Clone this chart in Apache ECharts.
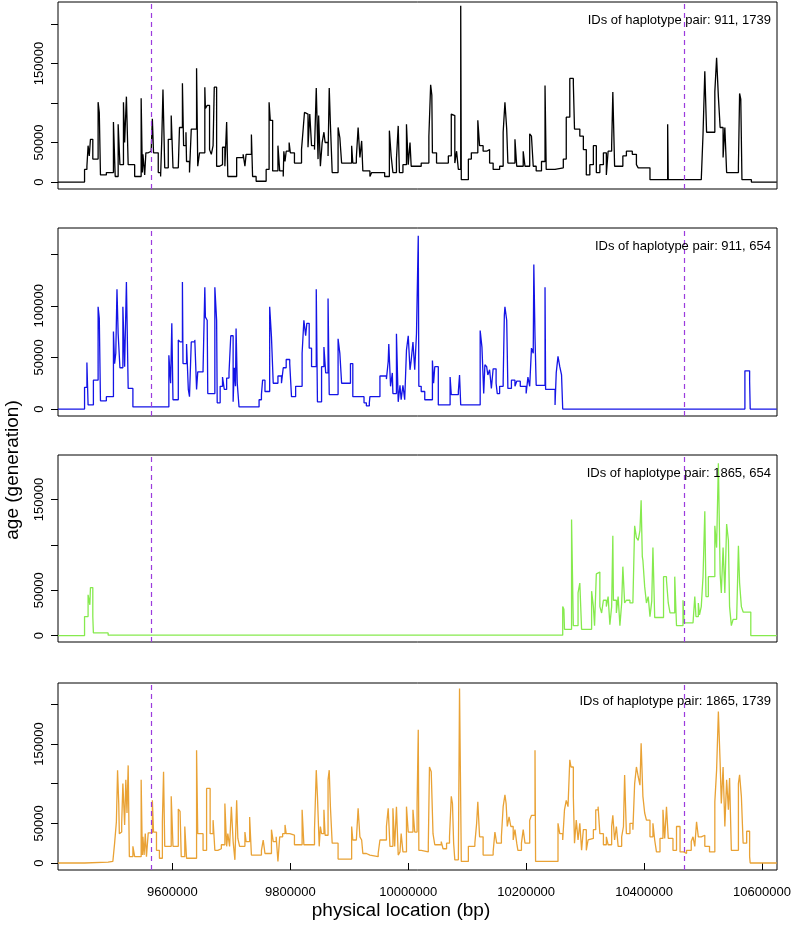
<!DOCTYPE html>
<html><head><meta charset="utf-8">
<script src="https://cdn.jsdelivr.net/npm/echarts@6/dist/echarts.min.js"></script>
<style>html,body{margin:0;padding:0;background:#fff}#c{width:792px;height:926px}</style>
</head><body><div id="c"></div>
<script>
// physical positions (bp) and ages (generation) for each haplotype pair
const pos1 = [9406000,9451000,9455000,9457000,9459000,9461000,9465000,9474000,9476000,9478000,9488000,9500000,9503000,9508000,9511000,9517000,9519000,9522000,9525000,9536000,9547000,9549000,9550000,9553000,9555000,9559000,9564000,9566000,9568000,9576000,9580000,9582000,9584000,9587000,9593000,9598000,9601000,9610000,9612000,9617000,9619000,9623000,9624000,9629000,9632000,9641000,9643000,9646000,9655000,9656000,9659000,9663000,9666000,9669000,9671000,9675000,9680000,9685000,9689000,9692000,9694000,9709000,9720000,9723000,9725000,9734000,9736000,9742000,9759000,9764000,9766000,9770000,9779000,9782000,9788000,9789000,9791000,9793000,9798000,9800000,9807000,9819000,9822000,9824000,9827000,9830000,9833000,9836000,9841000,9844000,9847000,9848000,9851000,9854000,9857000,9859000,9864000,9866000,9868000,9871000,9881000,9884000,9887000,9904000,9906000,9912000,9915000,9918000,9921000,9923000,9935000,9938000,9960000,9968000,9971000,9974000,9980000,9983000,9985000,9991000,9997000,10000000,10003000,10005000,10022000,10035000,10038000,10040000,10041000,10048000,10068000,10073000,10076000,10079000,10082000,10085000,10089000,10090000,10102000,10107000,10118000,10121000,10127000,10133000,10138000,10144000,10155000,10161000,10164000,10167000,10169000,10181000,10184000,10195000,10198000,10206000,10209000,10212000,10217000,10226000,10232000,10234000,10249000,10263000,10268000,10274000,10280000,10282000,10291000,10297000,10302000,10308000,10314000,10319000,10325000,10331000,10336000,10339000,10345000,10347000,10350000,10364000,10370000,10380000,10387000,10390000,10410000,10440000,10441000,10497000,10500000,10503000,10506000,10520000,10523000,10526000,10529000,10534000,10537000,10540000,10560000,10562000,10564000,10566000,10582000,10625000];
const age1 = [0,16000,20000,46000,33000,54000,29000,101000,88000,9000,12000,76000,7000,73000,22000,101000,50000,108000,22000,7000,106000,12000,35000,9000,37000,39000,41000,80000,37000,12000,7000,54000,117000,18000,54000,84000,18000,20000,69000,125000,46000,63000,26000,12000,67000,144000,20000,37000,120000,93000,97000,41000,35000,46000,120000,20000,22000,44000,20000,76000,7000,31000,35000,20000,35000,60000,7000,1000,16000,101000,78000,14000,46000,14000,7000,39000,26000,39000,50000,37000,24000,41000,69000,88000,86000,44000,86000,46000,41000,119000,29000,84000,20000,50000,63000,50000,33000,119000,73000,12000,69000,56000,24000,46000,24000,31000,69000,31000,52000,14000,7000,12000,7000,65000,33000,12000,29000,71000,12000,22000,73000,22000,50000,20000,24000,58000,123000,110000,37000,24000,33000,86000,84000,24000,39000,16000,223000,3000,29000,37000,78000,46000,39000,41000,24000,16000,20000,63000,101000,67000,24000,54000,20000,39000,20000,61000,58000,20000,14000,26000,122000,16000,18000,29000,82000,131000,125000,67000,58000,41000,9000,22000,46000,12000,22000,37000,9000,39000,46000,114000,20000,33000,39000,35000,22000,18000,3000,73000,3000,5000,61000,140000,63000,114000,157000,108000,69000,31000,69000,12000,20000,112000,105000,3000,0,0];

const pos2 = [9406000,9451000,9455000,9457000,9466000,9474000,9476000,9478000,9488000,9500000,9502000,9504000,9506000,9508000,9511000,9516000,9519000,9522000,9525000,9533000,9594000,9597000,9599000,9601000,9610000,9613000,9617000,9618000,9624000,9627000,9629000,9632000,9638000,9641000,9643000,9652000,9655000,9656000,9659000,9660000,9672000,9675000,9676000,9681000,9685000,9688000,9692000,9696000,9699000,9703000,9705000,9707000,9708000,9710000,9713000,9747000,9751000,9753000,9757000,9765000,9768000,9771000,9779000,9785000,9788000,9793000,9799000,9802000,9809000,9820000,9823000,9826000,9828000,9832000,9836000,9844000,9846000,9853000,9857000,9860000,9864000,9866000,9881000,9884000,9887000,9902000,9906000,9925000,9929000,9934000,9935000,9952000,9963000,9966000,9967000,9970000,9973000,9974000,9980000,9983000,9986000,9988000,9991000,9994000,9997000,10000000,10003000,10005000,10008000,10011000,10014000,10017000,10018000,10022000,10028000,10041000,10043000,10045000,10051000,10071000,10073000,10085000,10087000,10089000,10122000,10125000,10128000,10130000,10133000,10135000,10138000,10141000,10144000,10149000,10151000,10155000,10161000,10163000,10164000,10167000,10169000,10175000,10181000,10184000,10190000,10200000,10203000,10206000,10209000,10212000,10213000,10215000,10217000,10232000,10233000,10249000,10251000,10254000,10257000,10260000,10262000,10571000,10579000,10580000,10625000];
const age2 = [0,21000,45000,4000,28000,99000,88000,8000,12000,75000,44000,54000,116000,73000,40000,99000,41000,123000,20000,2000,52000,25000,83000,9000,67000,65000,123000,44000,63000,19000,12000,65000,67000,19000,36000,38000,118000,89000,86000,15000,118000,86000,6000,22000,31000,19000,30000,35000,71000,7000,40000,22000,78000,25000,2000,9000,14000,28000,17000,99000,70000,25000,32000,25000,40000,48000,44000,12000,22000,54000,86000,71000,83000,59000,41000,116000,7000,41000,60000,35000,107000,14000,68000,54000,25000,44000,12000,6000,3000,6000,12000,32000,29000,46000,63000,22000,35000,15000,73000,7000,23000,9000,23000,9000,57000,71000,38000,47000,65000,38000,73000,168000,22000,17000,9000,47000,25000,41000,4000,31000,14000,17000,33000,4000,76000,60000,15000,43000,41000,33000,38000,20000,39000,25000,15000,22000,27000,91000,99000,86000,20000,28000,22000,27000,22000,15000,31000,22000,59000,54000,140000,70000,23000,118000,19000,4000,35000,51000,41000,33000,0,37000,27000,0,0];

const pos3 = [9406000,9451000,9457000,9460000,9461000,9465000,9466000,9491000,10262000,10264000,10265000,10277000,10280000,10288000,10291000,10294000,10311000,10314000,10316000,10319000,10322000,10325000,10328000,10331000,10336000,10339000,10342000,10345000,10347000,10348000,10353000,10356000,10359000,10362000,10364000,10367000,10370000,10376000,10381000,10384000,10387000,10390000,10393000,10395000,10397000,10398000,10401000,10404000,10407000,10410000,10413000,10415000,10418000,10433000,10438000,10441000,10444000,10452000,10455000,10466000,10468000,10483000,10486000,10488000,10492000,10494000,10497000,10500000,10503000,10505000,10509000,10520000,10523000,10526000,10529000,10531000,10534000,10537000,10540000,10543000,10545000,10548000,10551000,10557000,10560000,10562000,10565000,10568000,10581000,10625000];
const age3 = [0,21000,45000,34000,53000,21000,3000,500,32000,29000,7000,128000,11000,47000,58000,7000,49000,32000,11000,68000,70000,32000,25000,39000,32000,43000,12000,32000,110000,39000,25000,43000,11000,36000,76000,36000,39000,36000,38000,121000,108000,105000,116000,149000,87000,83000,54000,36000,43000,21000,38000,97000,20000,65000,61000,36000,25000,65000,11000,39000,14000,16000,43000,21000,36000,23000,32000,65000,137000,43000,65000,121000,97000,190000,68000,47000,97000,47000,123000,105000,32000,11000,18000,20000,99000,58000,32000,26000,0,0];

const pos4 = [9406000,9451000,9491000,9499000,9502000,9505000,9507000,9509000,9510000,9512000,9514000,9516000,9519000,9521000,9523000,9525000,9527000,9533000,9536000,9547000,9549000,9550000,9552000,9554000,9556000,9559000,9566000,9568000,9573000,9578000,9583000,9585000,9587000,9598000,9601000,9610000,9613000,9615000,9621000,9624000,9641000,9643000,9652000,9658000,9664000,9669000,9672000,9677000,9683000,9689000,9692000,9694000,9697000,9700000,9703000,9706000,9709000,9711000,9714000,9723000,9725000,9731000,9734000,9751000,9754000,9757000,9768000,9771000,9776000,9779000,9782000,9787000,9791000,9793000,9799000,9807000,9820000,9823000,9841000,9844000,9846000,9849000,9851000,9853000,9857000,9859000,9864000,9866000,9868000,9871000,9881000,9904000,9906000,9912000,9915000,9918000,9921000,9923000,9929000,9935000,9949000,9952000,9963000,9966000,9969000,9974000,9977000,9980000,9983000,9986000,9988000,9991000,9997000,10000000,10008000,10011000,10015000,10017000,10018000,10022000,10034000,10036000,10039000,10042000,10045000,10056000,10059000,10065000,10070000,10073000,10075000,10077000,10079000,10085000,10087000,10090000,10102000,10113000,10116000,10118000,10121000,10127000,10144000,10147000,10150000,10158000,10161000,10164000,10166000,10168000,10171000,10174000,10178000,10181000,10184000,10186000,10192000,10195000,10198000,10206000,10209000,10215000,10216000,10254000,10257000,10262000,10265000,10268000,10271000,10274000,10276000,10280000,10282000,10285000,10288000,10291000,10294000,10297000,10302000,10305000,10308000,10314000,10318000,10322000,10325000,10331000,10336000,10339000,10345000,10347000,10350000,10353000,10356000,10362000,10365000,10367000,10370000,10376000,10381000,10384000,10387000,10390000,10393000,10395000,10398000,10401000,10404000,10410000,10415000,10418000,10421000,10427000,10432000,10435000,10438000,10441000,10449000,10455000,10461000,10467000,10472000,10480000,10483000,10486000,10489000,10492000,10497000,10503000,10511000,10520000,10523000,10526000,10529000,10531000,10534000,10537000,10540000,10543000,10545000,10548000,10560000,10562000,10565000,10568000,10574000,10579000,10580000,10625000];
const age4 = [0,1000,2000,3000,25000,52000,117000,75000,37000,39000,50000,100000,48000,105000,63000,123000,8000,21000,8000,105000,10000,33000,10000,37000,8000,38000,79000,39000,16000,6000,52000,115000,21000,84000,21000,68000,65000,8000,46000,6000,142000,37000,16000,94000,37000,54000,16000,18000,23000,75000,21000,37000,21000,71000,27000,4000,79000,31000,21000,39000,27000,58000,10000,16000,29000,12000,42000,27000,33000,2000,33000,37000,48000,37000,35000,23000,67000,23000,42000,117000,84000,21000,46000,37000,67000,35000,105000,117000,71000,25000,5000,46000,29000,31000,69000,33000,29000,12000,10000,8000,12000,29000,46000,69000,21000,69000,21000,71000,10000,14000,37000,14000,71000,39000,67000,39000,75000,168000,16000,14000,21000,121000,115000,37000,23000,27000,18000,25000,33000,84000,75000,25000,4000,2000,220000,2000,21000,25000,50000,77000,33000,10000,14000,39000,25000,33000,71000,86000,75000,46000,58000,46000,29000,42000,25000,16000,25000,42000,25000,54000,60000,142000,2000,50000,37000,29000,67000,79000,71000,130000,121000,84000,25000,54000,29000,50000,16000,42000,16000,29000,31000,42000,67000,71000,37000,23000,33000,23000,46000,60000,29000,46000,21000,33000,46000,111000,37000,50000,42000,100000,121000,109000,98000,151000,84000,63000,54000,33000,50000,29000,14000,31000,67000,31000,71000,31000,16000,46000,14000,12000,16000,27000,33000,21000,52000,33000,35000,21000,14000,77000,117000,191000,126000,75000,121000,46000,105000,67000,107000,16000,100000,111000,84000,25000,40000,8000,0,0];

const pairLabels = ['IDs of haplotype pair: 911, 1739','IDs of haplotype pair: 911, 654','IDs of haplotype pair: 1865, 654','IDs of haplotype pair: 1865, 1739'];
const xTicks = [9600000,9800000,10000000,10200000,10400000,10600000];
const dashedPositions = [9564300, 10467400];
const yTicks = [[0,50000,100000,150000,200000],[0,50000,100000,150000],[0,50000,100000,150000],[0,50000,100000,150000,200000]];
const yLabels = [[0,50000,150000],[0,50000,100000],[0,50000,150000],[0,50000,150000]];
const xRange = [9405970, 10625440];

// layout / style
const yRanges = [[-8800,227700],[-6750,175400],[-7000,199000],[-8800,226800]];
const tops = [2,228,455,683];
const heights = [187,188,187,187];
const colors = ['#000000','#1414E6','#86EA4E','#E9A235'];
const FONT = '"Liberation Sans", Arial, Helvetica, sans-serif';

const posAll = [pos1,pos2,pos3,pos4];
const ageAll = [age1,age2,age3,age4];
const plain = v => String(v);

const grids=[], xAxes=[], yAxes=[], series=[], graphics=[];
for (let i=0;i<4;i++){
  grids.push({left:58, width:719, top:tops[i], height:heights[i], show:true, borderColor:'#000', borderWidth:1,
    backgroundColor:'transparent', containLabel:false, outerBoundsMode:'none'});
  const isBottom = i===3;
  xAxes.push({gridIndex:i, type:'value', min:xRange[0], max:xRange[1],
    axisLine:{show:false}, splitLine:{show:false},
    axisTick:{show:isBottom, length:7, customValues:xTicks, lineStyle:{color:'#000'}},
    axisLabel:{show:isBottom, customValues:xTicks, formatter:plain, fontSize:13, color:'#000', margin:16, fontFamily:FONT, hideOverlap:false}
  });
  yAxes.push({gridIndex:i, type:'value', min:yRanges[i][0], max:yRanges[i][1],
    axisLine:{show:false}, splitLine:{show:false},
    axisTick:{show:true, length:7, customValues:yTicks[i], lineStyle:{color:'#000'}},
    axisLabel:{customValues:yLabels[i], formatter:plain, rotate:90, fontSize:13, color:'#000', margin:12, fontFamily:FONT, hideOverlap:false}
  });
  const data = posAll[i].map((p,k)=>[p, ageAll[i][k]]);
  series.push({type:'line', xAxisIndex:i, yAxisIndex:i, data, step:'end', showSymbol:false, symbol:'none',
    lineStyle:{color:colors[i], width:1.3}, silent:true, animation:false, sampling:null,
    markLine:{silent:true, symbol:['none','none'], label:{show:false}, animation:false,
      lineStyle:{color:'#9B3BDD', type:[5,4], width:1.2}, emphasis:{disabled:true},
      data: dashedPositions.map(v=>({xAxis:v}))}
  });
  graphics.push({type:'text', right: 792-771, top: tops[i]+12, z:100,
    style:{text:pairLabels[i], font:'13px '+FONT, fill:'#000'}});
}
graphics.push({type:'text', x:13, y:470, rotation:Math.PI/2, z:100,
  style:{text:'age (generation)', font:'19px '+FONT, fill:'#000', align:'center', verticalAlign:'middle', textAlign:'center', textVerticalAlign:'middle'}});
graphics.push({type:'text', x:401, y:911, z:100,
  style:{text:'physical location (bp)', font:'19px '+FONT, fill:'#000', align:'center', verticalAlign:'middle', textAlign:'center', textVerticalAlign:'middle'}});

const chart = echarts.init(document.getElementById('c'), null, {renderer:'canvas'});
chart.setOption({animation:false, backgroundColor:'#fff', grid:grids, xAxis:xAxes, yAxis:yAxes, series, graphic:graphics});
</script></body></html>
